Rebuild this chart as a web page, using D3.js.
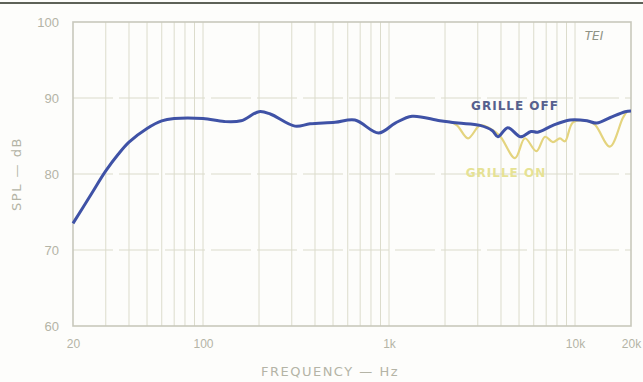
<!DOCTYPE html>
<html>
<head>
<meta charset="utf-8">
<script src="https://cdn.jsdelivr.net/npm/d3@7"></script>
<style>
  body { margin: 0; background: #fdfdfb; }
  svg { display: block; }
</style>
</head>
<body>
<div id="chart"></div>
<script>
// Frequency response: [Hz, dB]
const grilleOff = [
  [20, 73.5], [25, 77.3], [30, 80.4], [35, 82.6], [40, 84.2], [50, 86.0],
  [60, 87.0], [70, 87.3], [100, 87.3], [130, 86.9], [160, 87.0], [200, 88.2],
  [230, 87.9], [312, 86.3], [376, 86.6], [513, 86.8], [656, 87.1], [880, 85.4],
  [1080, 86.7], [1330, 87.6], [1880, 87.0], [2350, 86.7], [3085, 86.4],
  [3600, 85.7], [3850, 84.9], [4350, 86.1], [5100, 84.9], [5800, 85.6],
  [6300, 85.5], [7610, 86.4], [9400, 87.1], [11600, 87.0], [13100, 86.7],
  [15400, 87.4], [18600, 88.2], [20000, 88.3]
];
const grilleOn = [
  [2100, 86.9], [2320, 86.4], [2660, 84.7], [3085, 86.4], [3490, 86.0],
  [3950, 85.0], [4760, 82.1], [5380, 84.7], [6200, 83.0], [6900, 84.9],
  [7610, 84.2], [8300, 84.7], [8830, 84.3], [9750, 86.8], [11600, 87.0],
  [12800, 86.5], [15400, 83.6], [18100, 87.4], [19100, 88.2], [20000, 88.3]
];
const yTicks = [60, 70, 80, 90, 100];
const xTickLabels = [[20, "20"], [100, "100"], [1000, "1k"], [10000, "10k"], [20000, "20k"]];
const gridFreqs = [30, 40, 50, 60, 70, 80, 90, 100, 200, 300, 400, 500, 600, 700, 800, 900,
  1000, 2000, 3000, 4000, 5000, 6000, 7000, 8000, 9000, 10000];

const W = 643, H = 382;
const x = d3.scaleLog().domain([20, 20000]).range([73, 631]);
const y = d3.scaleLinear().domain([60, 100]).range([326, 22]);

const svg = d3.select("#chart").append("svg")
  .attr("width", W).attr("height", H)
  .style("font-family", "DejaVu Sans, sans-serif");

// dark rule across the top of the page
svg.append("line")
  .attr("x1", 0).attr("x2", W).attr("y1", 3).attr("y2", 3)
  .attr("stroke", "#5e6258").attr("stroke-width", 2);

// grid
svg.append("g").selectAll("line")
  .data(gridFreqs)
  .join("line")
  .attr("x1", d => x(d)).attr("x2", d => x(d))
  .attr("y1", y(100)).attr("y2", y(60))
  .attr("stroke", "#dcdccc").attr("stroke-width", 1);

svg.append("g").selectAll("line")
  .data([70, 80, 90])
  .join("line")
  .attr("x1", x(20)).attr("x2", x(20000))
  .attr("y1", d => y(d)).attr("y2", d => y(d))
  .attr("stroke", "#dcdccc").attr("stroke-width", 1.2)
  .attr("stroke-dasharray", "40 6");

// frame
svg.append("rect")
  .attr("x", x(20)).attr("y", y(100))
  .attr("width", x(20000) - x(20)).attr("height", y(60) - y(100))
  .attr("fill", "none").attr("stroke", "#c8c8bc").attr("stroke-width", 1.6);

// axes
const yAxis = svg.append("g")
  .attr("transform", `translate(${x(20) - 11},0)`)
  .call(d3.axisLeft(y).tickValues(yTicks).tickSize(0));
yAxis.select(".domain").remove();
yAxis.selectAll("text").attr("fill", "#b4b4a6").style("font-size", "13px");

const xAxis = svg.append("g")
  .attr("transform", `translate(0,${y(60) + 10})`)
  .call(d3.axisBottom(x).tickValues(xTickLabels.map(d => d[0]))
    .tickFormat((d, i) => xTickLabels[i][1]).tickSize(0));
xAxis.select(".domain").remove();
xAxis.selectAll("text").attr("fill", "#b4b4a6").style("font-size", "12px");

svg.append("text")
  .attr("x", 330).attr("y", 376)
  .attr("text-anchor", "middle")
  .attr("fill", "#b4b4a6").style("font-size", "13px").style("letter-spacing", "1.5px")
  .text("FREQUENCY — Hz");

svg.append("text")
  .attr("transform", `translate(21,${y(80)}) rotate(-90)`)
  .attr("text-anchor", "middle")
  .attr("fill", "#b4b4a6").style("font-size", "13px").style("letter-spacing", "1.5px")
  .text("SPL — dB");

// curves
const line = d3.line()
  .x(d => x(d[0])).y(d => y(d[1]))
  .curve(d3.curveCatmullRom);

svg.append("path")
  .datum(grilleOn)
  .attr("d", line)
  .attr("fill", "none").attr("stroke", "#e4d47e").attr("stroke-width", 2.2);

svg.append("path")
  .datum(grilleOff)
  .attr("d", line)
  .attr("fill", "none").attr("stroke", "#3f52a6").attr("stroke-width", 3)
  .attr("stroke-linejoin", "round");

// labels
svg.append("text")
  .attr("x", 515).attr("y", 110)
  .attr("text-anchor", "middle")
  .attr("fill", "#56608e").style("font-size", "12px").style("font-weight", "bold")
  .style("letter-spacing", "1px")
  .text("GRILLE OFF");

svg.append("text")
  .attr("x", 506).attr("y", 177)
  .attr("text-anchor", "middle")
  .attr("fill", "#e6e294").style("font-size", "12px").style("font-weight", "bold")
  .style("letter-spacing", "1px")
  .text("GRILLE ON");

svg.append("text")
  .attr("x", 594).attr("y", 40)
  .attr("text-anchor", "middle")
  .attr("fill", "#8e9284").style("font-size", "12px").style("font-style", "italic")
  .text("TEI");
</script>
</body>
</html>
